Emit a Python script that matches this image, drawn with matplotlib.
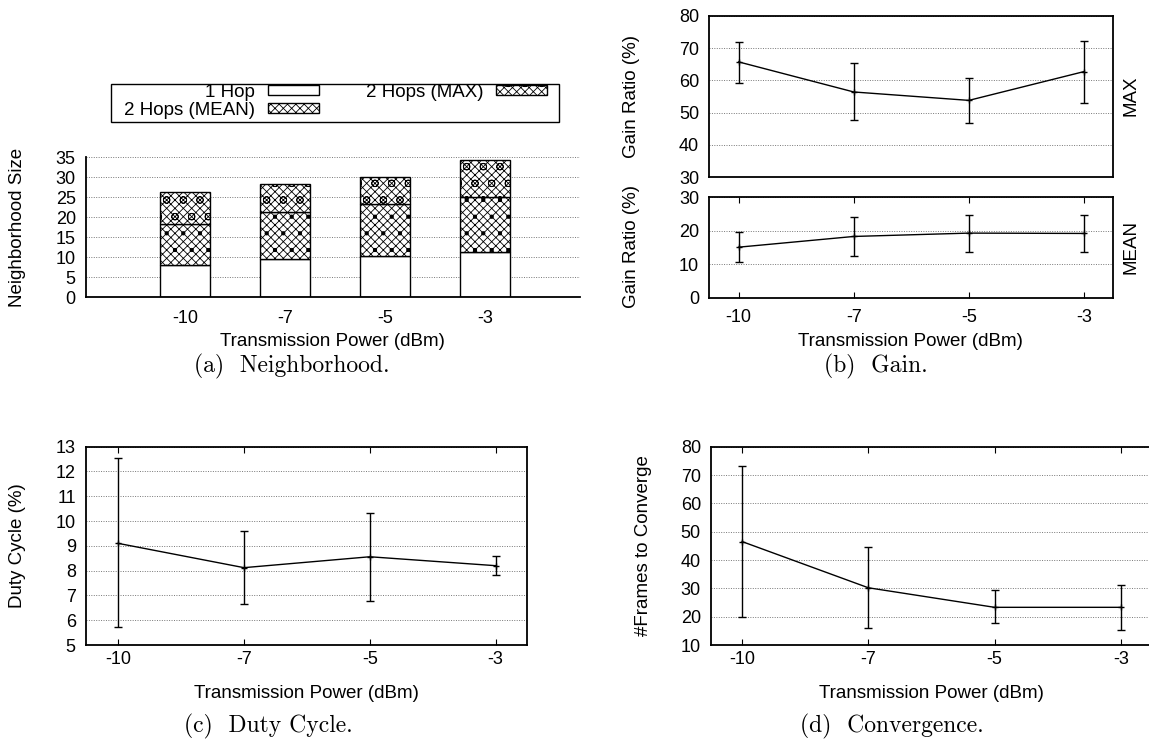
import numpy as np
import matplotlib
matplotlib.use("Agg")
import matplotlib.pyplot as plt
from matplotlib.patches import Rectangle

plt.rcParams['font.family'] = ['Liberation Sans', 'DejaVu Sans']
plt.rcParams['hatch.linewidth'] = 0.6

# data
power = ['-10', '-7', '-5', '-3']

# (a) neighborhood size (top of each stacked part)
one_hop = [8.0, 9.5, 10.4, 11.2]
two_hop_mean = [18.3, 21.3, 23.4, 25.0]
two_hop_max = [26.3, 28.3, 30.1, 34.2]

# (b) gain ratio, value with lower / upper error
gain_max = [65.7, 56.4, 53.8, 62.7]
gain_max_lo = [59.2, 47.8, 46.8, 53.0]
gain_max_hi = [72.0, 65.3, 60.6, 72.3]
gain_mean = [15.1, 18.3, 19.3, 19.2]
gain_mean_lo = [10.8, 12.4, 13.8, 13.8]
gain_mean_hi = [19.5, 24.0, 24.6, 24.6]

# (c) duty cycle
duty = [9.1, 8.12, 8.56, 8.2]
duty_lo = [5.71, 6.64, 6.78, 7.83]
duty_hi = [12.53, 9.6, 10.34, 8.58]

# (d) frames to converge
frames = [46.5, 30.2, 23.3, 23.3]
frames_lo = [20.0, 16.0, 17.6, 15.4]
frames_hi = [73.2, 44.6, 29.4, 31.2]

W, H = 1149, 742
fig = plt.figure(figsize=(W / 100, H / 100), dpi=100)


def rect(l, t, r, b):
    return [l / W, 1 - b / H, (r - l) / W, (b - t) / H]


def ftext(x, y, s, **kw):
    fig.text(x / W, 1 - y / H, s, ha='center', va='center', **kw)


TICK_FS = 13
LAB_FS = 13.5
grid_kw = dict(color='#777777', linestyle=(0, (1, 1.5)), linewidth=0.7)


def style(ax, ylim, yticks, xlim, xpad=4):
    ax.set_xlim(*xlim)
    ax.set_ylim(*ylim)
    ax.set_yticks(yticks)
    ax.set_xticks(range(len(power)))
    ax.set_xticklabels(power)
    ax.tick_params(direction='in', top=True, right=True, labelsize=TICK_FS,
                   length=4, width=0.8)
    ax.tick_params(axis='y', pad=7, length=0)
    ax.tick_params(axis='x', pad=xpad)
    ax.yaxis.grid(True, **grid_kw)
    ax.set_axisbelow(True)
    for s in ax.spines.values():
        s.set_linewidth(1.3)


def errline(ax, y, lo, hi):
    x = np.arange(len(y))
    y = np.array(y)
    err = [y - np.array(lo), np.array(hi) - y]
    ax.errorbar(x, y, yerr=err, color='black', lw=1.0, elinewidth=1.0,
                capsize=3, capthick=1.0, marker='+', ms=4, mew=1.0)


# ---- (a) Neighborhood
ax = fig.add_axes(rect(85.5, 157.3, 580, 297.3))
x = np.arange(len(power))
one = np.array(one_hop)
mean_top = np.array(two_hop_mean)
max_top = np.array(two_hop_max)
bar_kw = dict(width=0.5, color='white', edgecolor='black', lw=1.0)
b_one = ax.bar(x, one, **bar_kw)
b_mean = ax.bar(x, mean_top - one, bottom=one, hatch='xxxx.', **bar_kw)
b_max = ax.bar(x, max_top - mean_top, bottom=mean_top, hatch='XXXXo', **bar_kw)
ax.set_xlim(-1, 3.95)
ax.set_ylim(0, 35)
ax.set_yticks(range(0, 36, 5))
ax.set_xticks(x)
ax.set_xticklabels(power)
ax.tick_params(axis='x', length=0, labelsize=TICK_FS, pad=9)
ax.tick_params(axis='y', length=0, labelsize=TICK_FS, pad=7)
ax.yaxis.grid(True, **grid_kw)
ax.set_axisbelow(True)
ax.spines['top'].set_visible(False)
ax.spines['right'].set_visible(False)
ax.spines['left'].set_linewidth(1.3)
ax.spines['bottom'].set_linewidth(1.3)
ftext(18, 227, 'Neighborhood Size', rotation=90, fontsize=LAB_FS)
ftext(332, 342, 'Transmission Power (dBm)', fontsize=LAB_FS)

# legend: text before sample, frame drawn separately
leg = fig.legend([b_one, b_mean, b_max],
                 ['1 Hop', '2 Hops (MEAN)', '2 Hops (MAX)'],
                 ncol=2, markerfirst=False, loc='upper left',
                 bbox_to_anchor=(124 / W, 1 - 84 / H),
                 fontsize=LAB_FS, frameon=False, borderpad=0,
                 labelspacing=0.05, handlelength=2.7, handleheight=0.45,
                 handletextpad=0.7, columnspacing=2.5, borderaxespad=0)
fig.patches.append(Rectangle((111 / W, 1 - 122 / H), 448 / W, 38 / H,
                             transform=fig.transFigure, fill=False,
                             edgecolor='black', lw=1.0))

# ---- (b) Gain
xl = (-0.26, 3.25)
ax1 = fig.add_axes(rect(708.8, 15.7, 1112.7, 177.3))
style(ax1, (30, 80), range(30, 81, 10), xl)
errline(ax1, gain_max, gain_max_lo, gain_max_hi)
ax1.tick_params(axis='x', labelbottom=False, length=0)
ftext(631, 96, 'Gain Ratio (%)', rotation=90, fontsize=LAB_FS)
ftext(1131, 96, 'MAX', rotation=90, fontsize=LAB_FS)

ax2 = fig.add_axes(rect(708.8, 197.3, 1112.7, 297.7))
style(ax2, (0, 30), range(0, 31, 10), xl, xpad=8)
errline(ax2, gain_mean, gain_mean_lo, gain_mean_hi)
ftext(631, 247, 'Gain Ratio (%)', rotation=90, fontsize=LAB_FS)
ftext(1131, 247, 'MEAN', rotation=90, fontsize=LAB_FS)
ftext(910, 342, 'Transmission Power (dBm)', fontsize=LAB_FS)

# ---- (c) Duty cycle
ax3 = fig.add_axes(rect(85.5, 446.7, 527, 645))
style(ax3, (5, 13), range(5, 14), xl)
errline(ax3, duty, duty_lo, duty_hi)
ftext(18, 546, 'Duty Cycle (%)', rotation=90, fontsize=LAB_FS)
ftext(306, 694, 'Transmission Power (dBm)', fontsize=LAB_FS)

# ---- (d) Convergence
ax4 = fig.add_axes(rect(710.6, 446.7, 1149, 645))
style(ax4, (10, 80), range(10, 81, 10), (-0.25, 3.224))
ax4.spines['right'].set_visible(False)
errline(ax4, frames, frames_lo, frames_hi)
ftext(643, 546, '#Frames to Converge', rotation=90, fontsize=LAB_FS)
ftext(931, 694, 'Transmission Power (dBm)', fontsize=LAB_FS)

# captions
cap_kw = dict(fontsize=17, family=['cmr10', 'DejaVu Serif'])
ftext(292, 366, '(a)  Neighborhood.', **cap_kw)
ftext(876, 366, '(b)  Gain.', **cap_kw)
ftext(268, 726, '(c)  Duty Cycle.', **cap_kw)
ftext(892, 726, '(d)  Convergence.', **cap_kw)

fig.savefig('out.png', dpi=100)
